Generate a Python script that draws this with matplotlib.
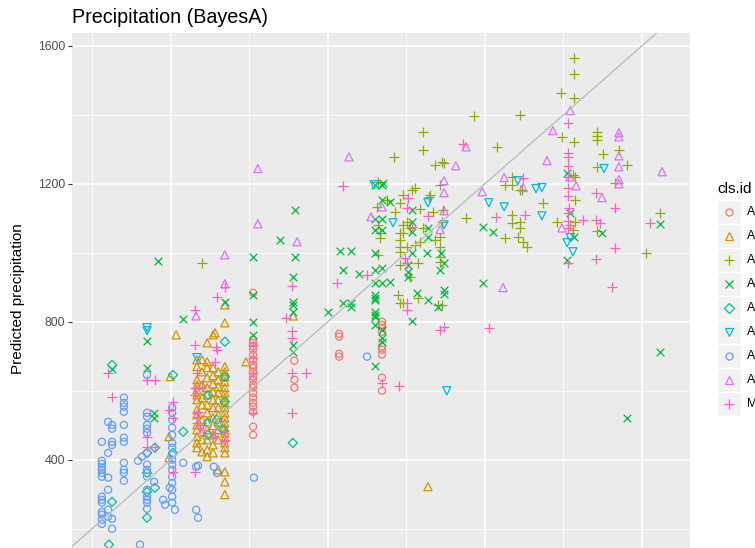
import matplotlib
matplotlib.use("Agg")
import matplotlib.pyplot as plt
from matplotlib.patches import Rectangle
from matplotlib.lines import Line2D
from matplotlib.ticker import MultipleLocator

plt.rcParams['font.family'] = ['Liberation Sans', 'DejaVu Sans']

# observed vs predicted precipitation, one list of (obs, pred) per cls.id
pts_a1 = [(610, 884), (610, 748), (610, 739), (610, 728), (610, 719), (610, 704), (610, 690),
          (610, 675), (610, 667), (610, 655), (610, 641), (610, 632), (610, 617), (610, 609),
          (610, 594), (610, 580), (610, 565), (610, 554), (610, 539), (610, 496), (610, 472),
          (715, 687), (715, 632), (715, 609),
          (829, 765), (829, 757), (829, 707), (829, 699),
          (938, 800), (938, 791), (938, 783), (938, 771), (938, 728), (938, 719), (938, 705),
          (938, 638), (938, 600)]

pts_a2 = [(467, 690), (467, 670), (467, 632), (467, 617), (467, 603), (467, 588), (467, 574),
          (467, 545), (467, 530), (467, 501), (467, 487), (467, 467), (467, 449), (467, 435),
          (480, 690), (480, 655), (480, 617), (480, 580), (480, 559), (480, 516), (480, 481),
          (480, 458), (480, 423),
          (493, 739), (493, 684), (493, 667), (493, 638), (493, 609), (493, 588), (493, 559),
          (493, 536), (493, 510), (493, 487), (493, 458), (493, 429), (493, 409),
          (508, 762), (508, 667), (508, 644), (508, 620), (508, 597), (508, 574), (508, 551),
          (508, 522), (508, 499), (508, 472), (508, 443), (508, 420),
          (521, 655), (521, 632), (521, 612), (521, 594), (521, 574), (521, 551), (521, 530),
          (521, 510), (521, 487), (521, 458), (521, 371),
          (538, 849), (538, 797), (538, 670), (538, 655), (538, 641), (538, 626), (538, 609),
          (538, 594), (538, 580), (538, 565), (538, 551), (538, 536), (538, 522), (538, 507),
          (538, 493), (538, 478), (538, 464), (538, 449), (538, 435), (538, 420), (538, 365),
          (538, 336), (538, 299),
          (414, 762), (513, 768), (399, 641), (396, 467), (396, 406), (592, 684), (712, 817),
          (1055, 322)]

pts_a3 = [(480, 971), (1172, 1397), (1289, 1400), (1042, 1351), (1042, 1299), (969, 1278),
          (1231, 1307), (1073, 1255), (1091, 1264), (1096, 1261), (928, 1206), (1086, 1197),
          (1022, 1189), (1014, 1183), (1060, 1168), (991, 1168), (1004, 1160), (984, 1145),
          (925, 1133), (951, 1154), (971, 1119), (1035, 1128), (1068, 1119), (1093, 1125),
          (928, 1081), (1002, 1090), (991, 1081), (1009, 1073), (991, 1058), (984, 1058),
          (1042, 1073), (933, 1058), (933, 1044), (984, 1038), (984, 1017), (1002, 1017),
          (1022, 1023), (1035, 1032), (1073, 1038), (1086, 1046), (1086, 1017), (984, 1003),
          (928, 994), (1086, 988), (1086, 974), (984, 965), (1002, 971), (1030, 971),
          (1009, 931), (979, 878), (1030, 870), (991, 855), (1081, 849), (1152, 1102),
          (1251, 1044), (1284, 1046), (1297, 1032), (1307, 1017), (1269, 1110), (1269, 1087),
          (1289, 1090), (1289, 1073), (1251, 1197), (1269, 1220), (1289, 1183), (1348, 1145),
          (1396, 1336), (1427, 1322), (1424, 1226), (1429, 1154), (1383, 1090), (1427, 1565),
          (1427, 1519), (1394, 1464), (1427, 1449), (1485, 1351), (1485, 1339), (1485, 1328),
          (1541, 1299), (1501, 1287), (1562, 1255), (1485, 1249), (1429, 1220), (1531, 1203),
          (1424, 1067), (1485, 1064), (1429, 1090), (1646, 1116), (1610, 1000), (1269, 1197),
          (1294, 1183), (1058, 1162), (1091, 1090), (1091, 849), (984, 855)]

pts_a4 = [(251, 664), (340, 745), (340, 667), (358, 536), (358, 522), (368, 977), (432, 809),
          (538, 858), (610, 988), (610, 878), (610, 800), (610, 762), (717, 1125), (678, 1038),
          (717, 988), (712, 930), (712, 858), (712, 849), (712, 829), (712, 733), (712, 713),
          (801, 829), (831, 1006), (859, 1006), (839, 951), (880, 939), (839, 855), (859, 855),
          (859, 844), (920, 1197), (938, 1197), (938, 1154), (958, 1148), (920, 1099),
          (938, 1099), (920, 1067), (938, 1067), (920, 1000), (920, 951), (938, 957),
          (920, 913), (938, 913), (958, 916), (920, 878), (920, 870), (920, 864), (920, 829),
          (920, 820), (920, 815), (920, 791), (938, 777), (938, 754), (938, 742), (920, 673),
          (1014, 1125), (1014, 1090), (1014, 1061), (1014, 1000), (1055, 1073), (1055, 1046),
          (1053, 1000), (1088, 1000), (1096, 971), (1086, 951), (1004, 965), (1004, 945),
          (1004, 931), (1027, 884), (1055, 864), (1081, 844), (1096, 893), (1096, 881),
          (1014, 803), (1195, 1075), (1221, 1061), (1195, 913), (1409, 1232), (1417, 1116),
          (1427, 1046), (1409, 980), (1498, 1058), (1646, 1084), (1562, 522), (1646, 713),
          (940, 1203)]

pts_a5 = [(251, 675), (251, 278), (243, 154), (340, 232), (340, 307), (340, 362), (340, 420),
          (360, 319), (360, 435), (406, 646), (406, 420), (432, 481), (538, 742), (495, 588),
          (495, 507), (495, 472), (538, 641), (538, 568), (533, 487), (518, 516), (711, 449)]

pts_a6 = [(340, 783), (340, 774), (467, 696), (918, 1197), (1055, 1145), (966, 1087),
          (1096, 1081), (1210, 1145), (1249, 1133), (1284, 1209), (1330, 1186), (1345, 1189),
          (1345, 1107), (1103, 600), (1503, 1244), (1409, 1029), (1424, 1003), (1417, 1044)]

pts_a7 = [(225, 452), (225, 397), (225, 388), (225, 377), (225, 371), (225, 362), (225, 351),
          (225, 293), (225, 284), (225, 276), (225, 249), (225, 241), (225, 226), (225, 214),
          (241, 510), (241, 420), (241, 348), (241, 313), (241, 255), (241, 235),
          (251, 501), (251, 490), (251, 452), (251, 443), (251, 229), (251, 200),
          (281, 580), (281, 565), (281, 554), (281, 539), (281, 501), (281, 464), (281, 452),
          (281, 391), (281, 371), (281, 362), (281, 339),
          (317, 397), (322, 154), (327, 409),
          (340, 646), (340, 536), (340, 525), (340, 501), (340, 490), (340, 478), (340, 420),
          (340, 386), (340, 371), (340, 351), (340, 313), (340, 293), (340, 284), (340, 276),
          (340, 258),
          (358, 336), (381, 284), (386, 270),
          (404, 551), (404, 536), (404, 516), (404, 493), (404, 472), (404, 449), (404, 435),
          (404, 414), (404, 400), (404, 386), (404, 371), (404, 351), (404, 333), (404, 313),
          (404, 293), (404, 276),
          (398, 319), (411, 255), (432, 391), (465, 380), (465, 255), (470, 383), (470, 232),
          (510, 380), (518, 362), (612, 348), (900, 699)]

pts_a8 = [(538, 994), (538, 910), (465, 817), (622, 1244), (622, 1084), (722, 1032),
          (854, 1278), (910, 1104), (938, 1133), (1096, 1209), (1096, 1174), (1096, 1122),
          (1086, 1067), (1152, 1307), (1126, 1252), (1193, 1177), (1249, 1218), (1297, 1189),
          (1358, 1267), (1246, 899), (1373, 1354), (1417, 1412), (1432, 1194), (1396, 1072),
          (1417, 1220), (1541, 1348), (1541, 1336), (1541, 1281), (1541, 1249), (1541, 1212),
          (1541, 1200), (1498, 1160), (1651, 1235)]

pts_mix = [(241, 652), (251, 583), (340, 632), (360, 632), (406, 568), (396, 545), (406, 522),
           (340, 467), (340, 438), (360, 438), (406, 365), (462, 835), (462, 733), (516, 728),
           (518, 719), (513, 684), (518, 873), (538, 902), (467, 652), (462, 609), (462, 588),
           (480, 612), (470, 539), (467, 525), (467, 507), (482, 487), (475, 501), (508, 467),
           (513, 478), (538, 478), (538, 458), (462, 365), (610, 733), (610, 696), (610, 652),
           (610, 536), (709, 904), (709, 774), (709, 754), (694, 812), (709, 652), (745, 652),
           (709, 536), (824, 913), (900, 936), (938, 623), (981, 615), (839, 1194),
           (1144, 1316), (1004, 1160), (1002, 1131), (1055, 1107), (1014, 1075), (997, 986),
           (1002, 971), (1002, 855), (1002, 835), (1096, 786), (1086, 777), (1210, 783),
           (1228, 1104), (1302, 1110), (1297, 1218), (1411, 1377), (1411, 1290), (1411, 1278),
           (1411, 1252), (1411, 1220), (1411, 1189), (1411, 1165), (1414, 1131), (1411, 1116),
           (1411, 1093), (1417, 1081), (1411, 1073), (1411, 971), (1483, 1174), (1483, 1096),
           (1493, 1087), (1450, 1096), (1531, 1131), (1531, 1015), (1620, 1087), (1483, 983),
           (1523, 902)]

cls_names = ['A1', 'A2', 'A3', 'A4', 'A5', 'A6', 'A7', 'A8', 'Mix']
cls_points = [pts_a1, pts_a2, pts_a3, pts_a4, pts_a5, pts_a6, pts_a7, pts_a8, pts_mix]
cls_colors = ['#F8766D', '#D39200', '#93AA00', '#00BA38', '#00C19F',
              '#00B9E3', '#619CFF', '#DB72FB', '#FF61C3']
cls_markers = ['o', '^', '+', 'x', 'D', 'v', 'o', '^', '+']
cls_sizes = [26, 34, 55, 30, 22, 34, 26, 34, 55]

W, H = 755, 548
fig = plt.figure(figsize=(W / 100, H / 100), dpi=100)

# panel runs past the bottom edge of the figure
x_lim = (149, 1722)
y_lim = (100, 1637)
left, right, top = 72, 690, 33
height = (y_lim[1] - y_lim[0]) * 0.345
ax = fig.add_axes([left / W, 1 - (top + height) / H, (right - left) / W, height / H])
ax.set_facecolor('#EBEBEB')
for s in ax.spines.values():
    s.set_visible(False)
ax.set_xlim(*x_lim)
ax.set_ylim(*y_lim)
ax.xaxis.set_major_locator(MultipleLocator(400))
ax.xaxis.set_minor_locator(MultipleLocator(200))
ax.yaxis.set_major_locator(MultipleLocator(400))
ax.yaxis.set_minor_locator(MultipleLocator(200))
ax.grid(which='major', color='white', lw=1.1)
ax.grid(which='minor', color='white', lw=0.55)
ax.set_axisbelow(True)
ax.tick_params(axis='y', which='major', length=2.75, width=0.8, color='#333333',
               labelsize=8.8, labelcolor='#4D4D4D', pad=2.2)
ax.tick_params(which='minor', length=0)
# x axis labels fall below the saved area
ax.tick_params(axis='x', which='major', length=0, labelbottom=False)

for pts, col, mk, sz in zip(cls_points, cls_colors, cls_markers, cls_sizes):
    xs = [p[0] for p in pts]
    ys = [p[1] for p in pts]
    if mk in ('+', 'x'):
        ax.scatter(xs, ys, marker=mk, s=sz, c=col, linewidths=0.9, zorder=3)
    else:
        ax.scatter(xs, ys, marker=mk, s=sz, facecolors='none', edgecolors=col,
                   linewidths=0.9, zorder=3)

ax.axline((0, 0), slope=1, color='#BEBEBE', lw=1.0, zorder=4)

fig.text(left / W, 1 - 23 / H, 'Precipitation (BayesA)', fontsize=14.2,
         ha='left', va='baseline')
fig.text(18 / W, 1 - (top + height / 2) / H, 'Predicted precipitation', fontsize=11,
         rotation=90, ha='center', va='center')

# legend
fig.text(717 / W, 1 - 193 / H, 'cls.id', fontsize=11, ha='left', va='baseline')
for i, (name, col, mk, sz) in enumerate(zip(cls_names, cls_colors, cls_markers, cls_sizes)):
    ky = 200 + 24 * i
    fig.add_artist(Rectangle((717 / W, 1 - (ky + 24) / H), 24 / W, 24 / H,
                             transform=fig.transFigure, facecolor='#F2F2F2',
                             edgecolor='white', lw=1.0))
    cx, cy = 729 / W, 1 - (ky + 12) / H
    if mk in ('+', 'x'):
        fig.add_artist(Line2D([cx], [cy], marker=mk, markersize=sz ** 0.5, color=col,
                              markeredgewidth=0.9, linestyle='', transform=fig.transFigure))
    else:
        fig.add_artist(Line2D([cx], [cy], marker=mk, markersize=sz ** 0.5,
                              markerfacecolor='none', markeredgecolor=col,
                              markeredgewidth=0.9, linestyle='', transform=fig.transFigure))
    fig.text(747 / W, cy, name, fontsize=8.8, ha='left', va='center')

fig.savefig('out.png', dpi=100)
